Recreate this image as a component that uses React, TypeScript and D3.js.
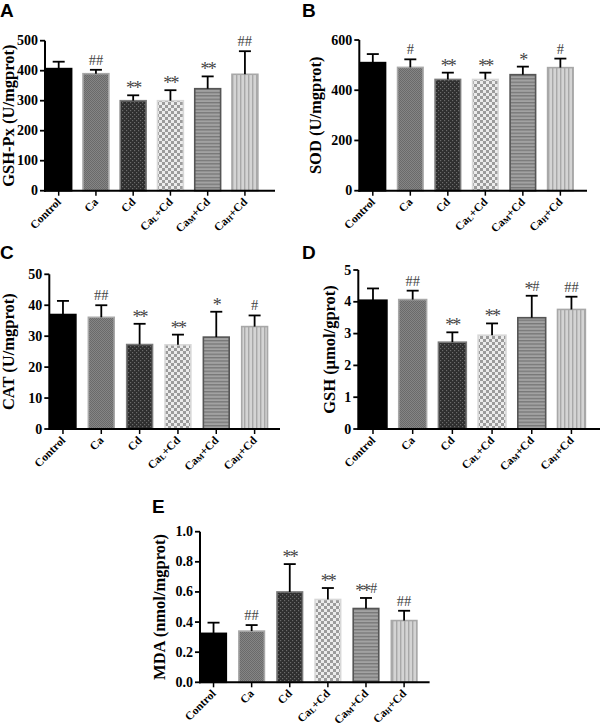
import React from 'react';
import * as d3 from 'd3';

// ---- data ----
const categories = ['Control', 'Ca', 'Cd', 'CaL+Cd', 'CaM+Cd', 'CaH+Cd'];
const labelBase = ['Control', 'Ca', 'Cd', 'Ca', 'Ca', 'Ca'];
const labelSub = ['', '', '', 'L', 'M', 'H'];
const labelRest = ['', '', '', '+Cd', '+Cd', '+Cd'];

const gshPxMean = [407, 390, 300, 300, 340, 388];
const gshPxSd = [23, 13, 18, 35, 41, 77];
const gshPxMarks = ['', '##', '**', '**', '**', '##'];
const gshPxTicks = [0, 100, 200, 300, 400, 500];

const sodMean = [510, 491, 443, 443, 462, 490];
const sodSd = [34, 32, 27, 27, 32, 36];
const sodMarks = ['', '#', '**', '**', '*', '#'];
const sodTicks = [0, 200, 400, 600];

const catMean = [37, 36.1, 27.3, 27.2, 29.7, 33.1];
const catSd = [4.4, 3.9, 6.7, 3.3, 8.2, 3.6];
const catMarks = ['', '##', '**', '**', '*', '#'];
const catTicks = [0, 10, 20, 30, 40, 50];

const gshMean = [4.05, 4.07, 2.73, 2.95, 3.5, 3.76];
const gshSd = [0.37, 0.28, 0.31, 0.37, 0.69, 0.4];
const gshMarks = ['', '##', '**', '**', '*#', '##'];
const gshTicks = [0, 1, 2, 3, 4, 5];

const mdaMean = [0.325, 0.34, 0.6, 0.55, 0.49, 0.41];
const mdaSd = [0.071, 0.04, 0.185, 0.076, 0.07, 0.065];
const mdaMarks = ['', '##', '**', '**', '**#', '##'];
const mdaTicks = [0, 0.2, 0.4, 0.6, 0.8, 1.0];

// ---- styles ----
const fills = ['#000', 'url(#pCa)', 'url(#pCd)', 'url(#pCaL)', 'url(#pCaM)', 'url(#pCaH)'];
const strokes = ['#000', '#a8a8a8', '#7a7a7a', '#d8d8d8', '#555', '#a8a8a8'];
const SERIF = '"Liberation Serif", "Times New Roman", serif';
const SANS = '"Liberation Sans", Arial, sans-serif';

type PanelProps = {
  letter: string; letterX: number; letterY: number;
  title: string; titleX: number;
  axisX: number; axisEnd: number; yTop: number; y0: number;
  ticks: number[]; fmt: (v: number) => string;
  mean: number[]; sd: number[]; marks: string[];
  pI: number; pO: number;
};

function Mark({ s, cx, cap }: { s: string; cx: number; cap: number }) {
  const stars = s.replace(/#/g, '');
  const hashes = s.replace(/\*/g, '');
  const sw = stars.length * 7.2;
  const hw = hashes.length * 7.3;
  const start = cx - (sw + hw) / 2;
  return (
    <g fill="#444" fontFamily={SERIF}>
      {stars && <text x={start} y={cap - 1} fontSize={18} letterSpacing={-1.8}>{stars}</text>}
      {hashes && <text x={start + sw + (stars ? 0.5 : 0)} y={cap - 5} fontSize={14.5}>{hashes}</text>}
    </g>
  );
}

function Panel(p: PanelProps) {
  const max = p.ticks[p.ticks.length - 1];
  const y = d3.scaleLinear().domain([0, max]).range([p.y0, p.yTop]);
  const x = d3.scaleBand<string>().domain(categories).range([p.axisX, p.axisEnd]).paddingInner(p.pI).paddingOuter(p.pO).align(0);
  const bw = x.bandwidth();
  return (
    <g>
      <text x={p.letterX} y={p.letterY} fontFamily={SANS} fontWeight="bold" fontSize={19}>{p.letter}</text>
      <text transform={`translate(${p.titleX},${(p.y0 + p.yTop) / 2}) rotate(-90)`} textAnchor="middle"
        fontFamily={SERIF} fontWeight="bold" fontSize={16.5}>{p.title}</text>
      {categories.map((c, i) => {
        const x0 = x(c)!;
        const cx = x0 + bw / 2;
        const top = y(p.mean[i]);
        const cap = y(p.mean[i] + p.sd[i]);
        const m = p.marks[i];
        return (
          <g key={c}>
            <rect x={x0 + 0.75} y={top} width={bw - 1.5} height={p.y0 - top} fill={fills[i]} stroke={strokes[i]} strokeWidth={1.6} />
            <line x1={cx} x2={cx} y1={top} y2={cap} stroke="#000" strokeWidth={1.8} />
            <line x1={cx - 6} x2={cx + 6} y1={cap} y2={cap} stroke="#000" strokeWidth={1.8} />
            {m && <Mark s={m} cx={cx} cap={cap} />}
            <line x1={cx} x2={cx} y1={p.y0} y2={p.y0 + 5} stroke="#000" strokeWidth={1.5} />
            <text transform={`translate(${cx + 3},${p.y0 + 12}) rotate(-45)`} textAnchor="end"
              fontFamily={SERIF} fontWeight="bold" fontSize={11.5}>
              {labelBase[i]}
              {labelSub[i] && <tspan fontSize={8} dy={1}>{labelSub[i]}</tspan>}
              {labelRest[i] && <tspan dy={labelSub[i] ? -1 : 0}>{labelRest[i]}</tspan>}
            </text>
          </g>
        );
      })}
      <line x1={p.axisX} x2={p.axisX} y1={p.yTop} y2={p.y0 + 1} stroke="#000" strokeWidth={2} />
      <line x1={p.axisX - 1} x2={p.axisEnd} y1={p.y0} y2={p.y0} stroke="#000" strokeWidth={2} />
      {p.ticks.map((t) => (
        <g key={t}>
          <line x1={p.axisX - 5} x2={p.axisX} y1={y(t)} y2={y(t)} stroke="#000" strokeWidth={1.8} />
          <text x={p.axisX - 7} y={y(t) + 4.5} textAnchor="end" fontFamily={SERIF} fontWeight="bold" fontSize={14}>{p.fmt(t)}</text>
        </g>
      ))}
    </g>
  );
}

export default function App() {
  const f0 = d3.format('d');
  const f1 = d3.format('.1f');
  return (
    <svg width={600} height={728} style={{ position: 'absolute', left: 0, top: 0, background: '#fff' }}>
      <defs>
        <pattern id="pCa" width={2} height={2} patternUnits="userSpaceOnUse">
          <rect width={2} height={2} fill="#858585" />
          <rect width={1} height={1} fill="#6a6a6a" />
          <rect x={1} y={1} width={1} height={1} fill="#6a6a6a" />
        </pattern>
        <pattern id="pCd" width={4} height={4} patternUnits="userSpaceOnUse">
          <rect width={4} height={4} fill="#2e2e2e" />
          <rect width={1.2} height={1.2} fill="#6a6a6a" />
          <rect x={2} y={2} width={1.2} height={1.2} fill="#6a6a6a" />
        </pattern>
        <pattern id="pCaL" width={6} height={6} patternUnits="userSpaceOnUse">
          <rect width={6} height={6} fill="#ececec" />
          <rect width={3} height={3} fill="#9c9c9c" />
          <rect x={3} y={3} width={3} height={3} fill="#9c9c9c" />
        </pattern>
        <pattern id="pCaM" width={3.4} height={3.4} patternUnits="userSpaceOnUse">
          <rect width={3.4} height={3.4} fill="#a2a2a2" />
          <rect width={3.4} height={1.3} fill="#777" />
        </pattern>
        <pattern id="pCaH" width={4} height={4} patternUnits="userSpaceOnUse">
          <rect width={4} height={4} fill="#d4d4d4" />
          <rect width={1.4} height={4} fill="#a8a8a8" />
        </pattern>
      </defs>
      <Panel letter="A" letterX={0} letterY={17} title="GSH-Px (U/mgprot)" titleX={14}
        axisX={45} axisEnd={275} yTop={40.7} y0={190.7} ticks={gshPxTicks} fmt={f0}
        mean={gshPxMean} sd={gshPxSd} marks={gshPxMarks} pI={0.265} pO={0.22} />
      <Panel letter="B" letterX={302} letterY={17} title="SOD (U/mgprot)" titleX={321}
        axisX={359.3} axisEnd={587} yTop={40} y0={190.7} ticks={sodTicks} fmt={f0}
        mean={sodMean} sd={sodSd} marks={sodMarks} pI={0.28} pO={0.175} />
      <Panel letter="C" letterX={0} letterY={259} title="CAT (U/mgprot)" titleX={14}
        axisX={49.3} axisEnd={280} yTop={274.3} y0={429} ticks={catTicks} fmt={f0}
        mean={catMean} sd={catSd} marks={catMarks} pI={0.287} pO={0.153} />
      <Panel letter="D" letterX={302} letterY={259} title="GSH (μmol/gprot)" titleX={335}
        axisX={358.3} axisEnd={602.8} yTop={270} y0={429} ticks={gshTicks} fmt={f0}
        mean={gshMean} sd={gshSd} marks={gshMarks} pI={0.26} pO={0.21} />
      <Panel letter="E" letterX={152} letterY={513} title="MDA (nmol/mgprot)" titleX={165}
        axisX={200} axisEnd={429.6} yTop={531.7} y0={682.3} ticks={mdaTicks} fmt={f1}
        mean={mdaMean} sd={mdaSd} marks={mdaMarks} pI={0.29} pO={0.157} />
    </svg>
  );
}
